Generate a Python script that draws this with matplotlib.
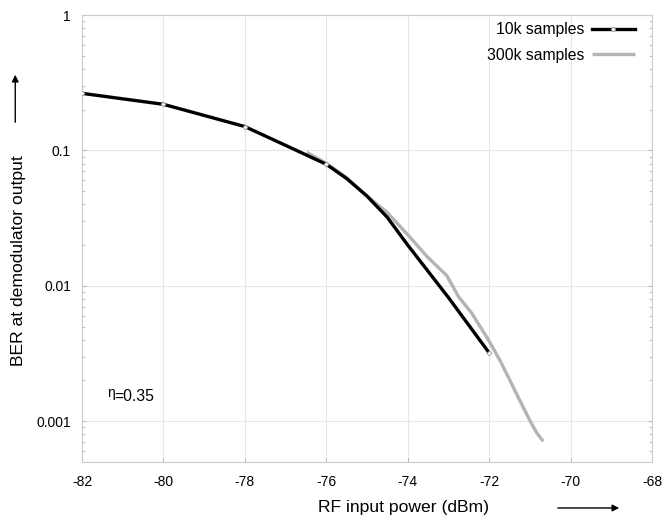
import matplotlib
matplotlib.use("Agg")
import matplotlib.pyplot as plt
from matplotlib.ticker import LogLocator, FixedLocator, NullFormatter

plt.rcParams['font.family'] = ['Liberation Sans', 'DejaVu Sans']

# Data
x_10k = [-82, -80, -78, -77, -76, -75.5, -75, -74.5, -74, -73, -72]
ber_10k = [0.264, 0.219, 0.150, 0.109, 0.079, 0.062, 0.046, 0.032, 0.020, 0.0082, 0.0032]

x_300k = [-76.48, -75.99, -75.50, -75.0, -74.51, -73.94, -73.53, -73.04, -72.75,
          -72.43, -72.02, -71.73, -71.48, -71.28, -70.99, -70.83, -70.67]
ber_300k = [0.097, 0.080, 0.063, 0.046, 0.035, 0.0228, 0.0165, 0.0119, 0.0083,
            0.0063, 0.0040, 0.0028, 0.00198, 0.00149, 0.0010, 0.00082, 0.00071]

xticks = [-82, -80, -78, -76, -74, -72, -70, -68]
yticks = [0.001, 0.01, 0.1, 1]
yticklabels = ['0.001', '0.01', '0.1', '1']

fig = plt.figure(figsize=(6.63, 5.21), dpi=100)
ax = fig.add_axes([0.1237, 0.1132, 0.8597, 0.858])

ax.plot(x_300k, ber_300k, color='#b4b4b4', lw=2.4, label='300k samples', zorder=2,
        solid_capstyle='butt')
ax.plot(x_10k, ber_10k, color='black', lw=2.4, label='10k samples', zorder=3,
        marker='D', ms=2.5, mfc='white', mec='#999999', mew=0.6,
        markevery=[0, 1, 2, 4, 10])

ax.set_yscale('log')
ax.set_xlim(-82, -68)
ax.set_ylim(5e-4, 1)
ax.xaxis.set_major_locator(FixedLocator(xticks))
ax.set_xticklabels([str(t) for t in xticks])
ax.yaxis.set_major_locator(FixedLocator(yticks))
ax.set_yticklabels(yticklabels)
ax.yaxis.set_minor_locator(LogLocator(base=10, subs=range(2, 10)))
ax.yaxis.set_minor_formatter(NullFormatter())

ax.grid(True, which='major', color='#e6e6e6', lw=0.8)
for s in ax.spines.values():
    s.set_color('#cccccc')
    s.set_linewidth(0.8)
ax.tick_params(axis='both', which='both', colors='#bbbbbb', labelcolor='black',
               labelsize=10)
ax.tick_params(axis='y', which='both', direction='in', left=True, right=True, length=3)
ax.tick_params(axis='y', which='minor', length=2)
ax.tick_params(axis='x', direction='in', length=3, pad=9)
ax.tick_params(axis='y', pad=8)

handles, labels = ax.get_legend_handles_labels()
leg = ax.legend(handles[::-1], labels[::-1], loc='upper right', frameon=False,
                markerfirst=False, fontsize=11.3, handlelength=2.75,
                handletextpad=0.45, bbox_to_anchor=(0.995, 1.015), labelspacing=0.65)

ax.annotate('η', xy=(-81.39, 0.00153), xytext=(0, 2.5), textcoords='offset points',
            fontsize=10, va='center', ha='left')
ax.text(-81.21, 0.00153, '=0.35', fontsize=11.3, va='center', ha='left')

fig.text(0.028, 0.50, 'BER at demodulator output', rotation=90, fontsize=12.6,
         ha='center', va='center')
fig.text(0.608, 0.025, 'RF input power (dBm)', fontsize=12.6, ha='center', va='center')

fig.patches.append(matplotlib.patches.FancyArrowPatch(
    (0.023, 1 - 125 / 521), (0.023, 1 - 72 / 521), transform=fig.transFigure,
    arrowstyle='-|>,head_length=4,head_width=2', color='black', lw=1, mutation_scale=1))
fig.patches.append(matplotlib.patches.FancyArrowPatch(
    (555 / 663, 0.025), (622 / 663, 0.025), transform=fig.transFigure,
    arrowstyle='-|>,head_length=4,head_width=2', color='black', lw=1, mutation_scale=1))

fig.savefig('out.png', dpi=100)
